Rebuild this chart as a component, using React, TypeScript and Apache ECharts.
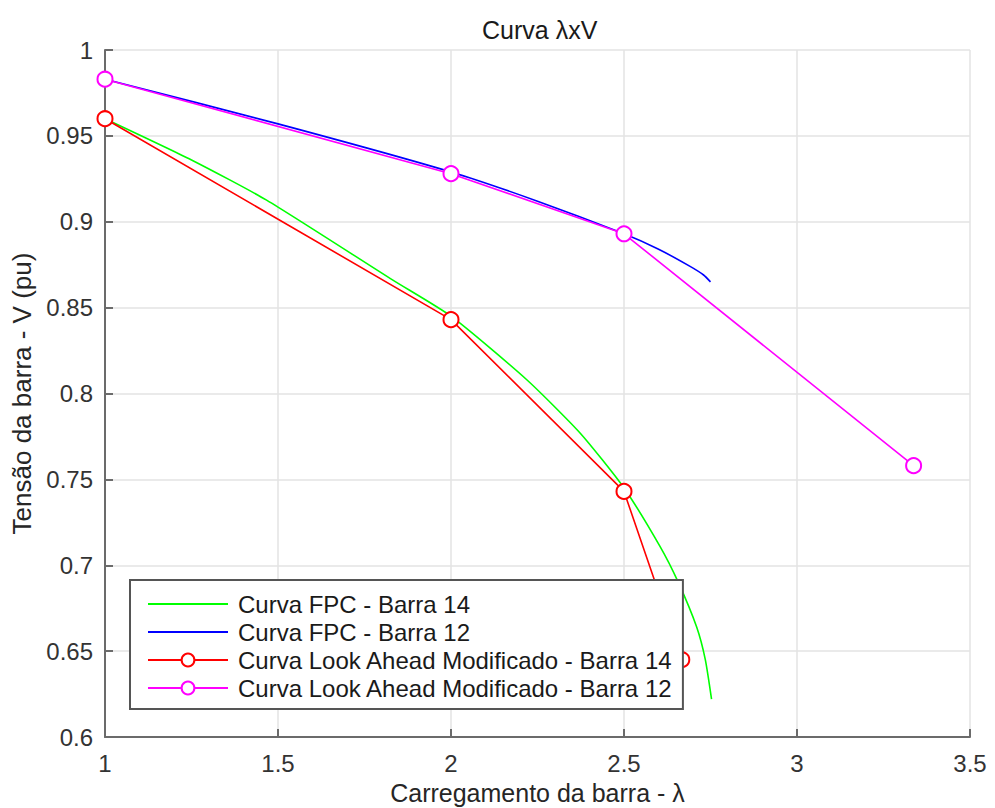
import React, { useEffect, useRef } from "react";
import * as echarts from "echarts";

const xTicks = ["1", "1.5", "2", "2.5", "3", "3.5"];
const yTicks = ["0.6", "0.65", "0.7", "0.75", "0.8", "0.85", "0.9", "0.95", "1"];

// Curva FPC - Barra 14 (green)
const fpc14Lambda = [1.0, 1.25, 1.467, 1.832, 2.0, 2.219, 2.373, 2.5, 2.604, 2.657, 2.71, 2.735, 2.753];
const fpc14V = [0.96, 0.936, 0.9126, 0.866, 0.845, 0.808, 0.777, 0.745, 0.711, 0.69, 0.664, 0.645, 0.622];

// Curva FPC - Barra 12 (blue)
const fpc12Lambda = [1.0, 1.5, 2.0, 2.25, 2.5, 2.6, 2.691, 2.73, 2.75];
const fpc12V = [0.983, 0.957, 0.929, 0.912, 0.893, 0.884, 0.874, 0.869, 0.865];

// Curva Look Ahead Modificado - Barra 14 (red)
const la14Lambda = [1.0, 2.0, 2.5, 2.667];
const la14V = [0.96, 0.843, 0.743, 0.645];

// Curva Look Ahead Modificado - Barra 12 (magenta)
const la12Lambda = [1.0, 2.0, 2.5, 3.337];
const la12V = [0.983, 0.928, 0.893, 0.758];

const seriesNames = [
  "Curva FPC - Barra 14",
  "Curva FPC - Barra 12",
  "Curva Look Ahead Modificado - Barra 14",
  "Curva Look Ahead Modificado - Barra 12",
];

const zip = (xs: number[], ys: number[]) => xs.map((x, i) => [x, ys[i]]);

const FONT = "'Liberation Sans', Arial, Helvetica, sans-serif";

export default function App() {
  const ref = useRef<HTMLDivElement>(null);

  useEffect(() => {
    if (!ref.current) return;
    const chart = echarts.init(ref.current, null, { renderer: "svg" });
    const lineSeries = (
      name: string,
      data: number[][],
      color: string,
      marker: boolean
    ) => ({
      name,
      type: "line",
      data,
      smooth: marker ? false : 0.2,
      symbol: marker ? "emptyCircle" : "none",
      symbolSize: 15,
      showSymbol: marker,
      lineStyle: { color, width: 1.6 },
      itemStyle: marker
        ? { color, borderColor: color, borderWidth: 1.6 }
        : { color: "rgba(0,0,0,0)", borderColor: "rgba(0,0,0,0)", borderWidth: 0 },
      emphasis: { disabled: true },
      z: 2,
    });

    chart.setOption({
      animation: false,
      backgroundColor: "#ffffff",
      textStyle: { fontFamily: FONT },
      title: {
        text: "Curva λxV",
        left: 482,
        top: 17,
        padding: 0,
        textStyle: {
          fontFamily: FONT,
          fontSize: 25,
          fontWeight: "normal",
          color: "#1a1a1a",
        },
      },
      grid: {
        left: 105,
        top: 50,
        width: 865,
        height: 687,
        containLabel: false,
        outerBoundsMode: "none",
      },
      xAxis: {
        type: "value",
        min: 1,
        max: 3.5,
        interval: 0.5,
        name: "Carregamento da barra - λ",
        nameLocation: "middle",
        nameGap: 43,
        nameTextStyle: { fontFamily: FONT, fontSize: 25, color: "#262626" },
        axisLine: { show: true, onZero: false, lineStyle: { color: "#6b6b6b", width: 2 } },
        axisTick: { show: true, inside: true, length: 8, lineStyle: { color: "#6b6b6b", width: 2 } },
        axisLabel: {
          margin: 14,
          fontFamily: FONT,
          fontSize: 24,
          color: "#333333",
          formatter: (v: number) => xTicks.find((t) => Math.abs(parseFloat(t) - v) < 1e-9) ?? String(v),
        },
        splitLine: { show: true, lineStyle: { color: "#e3e3e3", width: 1.5 } },
      },
      yAxis: {
        type: "value",
        min: 0.6,
        max: 1,
        interval: 0.05,
        name: "Tensão da barra - V (pu)",
        nameLocation: "middle",
        nameGap: 69,
        nameTextStyle: { fontFamily: FONT, fontSize: 26, color: "#262626" },
        axisLine: { show: true, onZero: false, lineStyle: { color: "#6b6b6b", width: 2 } },
        axisTick: { show: true, inside: true, length: 8, lineStyle: { color: "#6b6b6b", width: 2 } },
        axisLabel: {
          margin: 12,
          fontFamily: FONT,
          fontSize: 24,
          color: "#333333",
          formatter: (v: number) => yTicks.find((t) => Math.abs(parseFloat(t) - v) < 1e-9) ?? String(v),
        },
        splitLine: { show: true, lineStyle: { color: "#e3e3e3", width: 1.5 } },
      },
      legend: {
        show: true,
        orient: "vertical",
        left: 130,
        top: 580,
        data: seriesNames,
        backgroundColor: "#ffffff",
        borderColor: "#555555",
        borderWidth: 2,
        padding: [12, 10, 9, 17],
        itemGap: 4,
        itemWidth: 80,
        itemHeight: 16,
        selectedMode: false,
        z: 10,
        textStyle: {
          fontFamily: FONT,
          fontSize: 24,
          lineHeight: 24,
          color: "#1a1a1a",
          padding: [0, 0, 0, 5],
        },
      },
      series: [
        lineSeries(seriesNames[0], zip(fpc14Lambda, fpc14V), "#00ff00", false),
        lineSeries(seriesNames[1], zip(fpc12Lambda, fpc12V), "#0000ff", false),
        lineSeries(seriesNames[2], zip(la14Lambda, la14V), "#ff0000", true),
        lineSeries(seriesNames[3], zip(la12Lambda, la12V), "#ff00ff", true),
      ],
    });
    return () => chart.dispose();
  }, []);

  return (
    <div
      ref={ref}
      style={{ position: "fixed", left: 0, top: 0, width: 995, height: 808, background: "#fff" }}
    />
  );
}
